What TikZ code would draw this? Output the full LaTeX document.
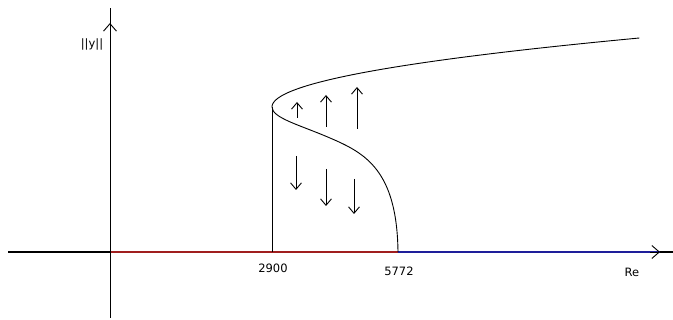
\documentclass[tikz,border=0pt]{standalone}
\usepackage{fontspec}
\setmainfont{DejaVu Sans}
\usetikzlibrary{arrows.meta}
\definecolor{branchred}{HTML}{A01E1E}
\definecolor{branchblue}{HTML}{1E1E9A}
\begin{document}
\begin{tikzpicture}[x=1pt,y=-1pt,
  axis/.style={line width=1.2pt},
  curve/.style={line width=0.9pt},
  tipbig/.style={-{Straight Barb[length=7.5pt,width=13pt,line width=0.9pt]}},
  flow/.style={line width=0.9pt,-{Straight Barb[length=6.5pt,width=11pt,line width=0.9pt]}},
  lbl/.style={font=\fontsize{11.5}{12}\selectfont, inner sep=0pt}]
\useasboundingbox (0,0) rectangle (673,320);
% coordinates
\coordinate (xl) at (8,252);
\coordinate (o) at (110,252);
\coordinate (a) at (272,252);
\coordinate (b) at (398,252);
\coordinate (xe) at (660,252);
\coordinate (xr) at (673,252);
\coordinate (yb) at (110,318);
\coordinate (yt) at (110,8);
\coordinate (ytip) at (110,23);
\coordinate (turn) at (272,107);
% axes
\draw[axis] (xl) -- (o);
\draw[axis,branchred] (o) -- (b);
\draw[axis,branchblue] (b) -- (xe);
\draw[axis] (xe) -- (xr);
\draw[line width=1pt] (yb) -- (yt);
\draw[tipbig] (650,252) -- (xe);
\draw[tipbig] (110,33) -- (ytip);
% branches
\draw[curve] (a) -- (turn);
\draw[curve] plot[domain=0:69,samples=80] ({272+(\x/3.6)^2},{107-\x});
\draw[curve] (turn) .. controls (272,118) and (300,125) .. (330,138)
  .. controls (365,153) and (397,170) .. (b);
% flow arrows
\draw[flow] (297,118) -- (297,102);
\draw[flow] (326,127) -- (326,95);
\draw[flow] (357,129) -- (357,87);
\draw[flow] (296,156) -- (296,190);
\draw[flow] (326,169) -- (326,206);
\draw[flow] (354,179) -- (354,214);
% labels
\node[lbl] (ny) at (92,44) {\textbar\textbar y\textbar\textbar};
\node[lbl] (n1) at (273,268) {2900};
\node[lbl] (n2) at (399,271) {5772};
\node[lbl] (nre) at (632,272) {Re};
\end{tikzpicture}
\end{document}
